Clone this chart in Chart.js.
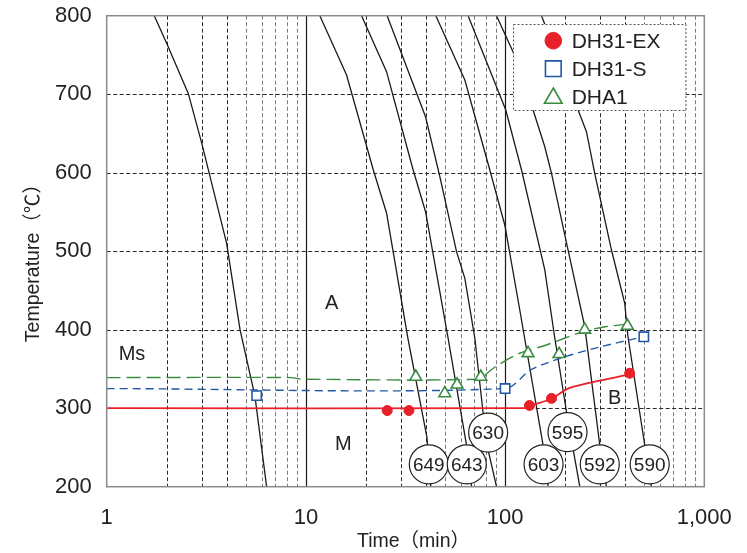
<!DOCTYPE html>
<html>
<head>
<meta charset="utf-8">
<script src="https://cdn.jsdelivr.net/npm/chart.js@4.4.1/dist/chart.umd.min.js"></script>
<style>
  html, body { margin: 0; padding: 0; background: #fff; }
  canvas { display: block; }
</style>
</head>
<body>
<canvas id="cct" width="747" height="553"></canvas>
<script>
const FONT = '"Liberation Sans", Arial, Helvetica, "Noto Sans CJK KR", sans-serif';

// Cooling curves: [time (min), temperature (°C)]
const curve0   = [[1.733,800],[2.0,765],[2.567,701],[2.997,638],[4.0,510],[4.67,400],[5.55,315],[6.35,200]];
const curve649 = [[11.75,800],[16.0,724.5],[21.8,603.4],[25.4,548.7],[32.5,389.4],[40.5,263.3],[42.4,200]];
const curve643 = [[19.03,800],[25.4,728.7],[34.55,603.4],[39.87,550.3],[51.76,389.0],[64.03,253.1],[67.85,200]];
const curve630 = [[25.58,800],[39.87,671.3],[47.03,594.9],[57.05,499.4],[62.8,465.4],[70.47,389.4],[77.55,293.9],[82.15,246.8],[90.55,200]];
const curve603 = [[44.91,800],[62.8,718.1],[83.8,603.4],[99.65,533.4],[118.5,425.1],[155.1,253.1],[164.4,200]];
const curve595 = [[65.2,800],[89.8,711.7],[100.8,679.9],[120.9,603.4],[158.2,476.1],[177.6,389.4],[203.3,295.5],[237.1,200]];
const curve592 = [[90.55,800],[109.7,753.8],[138.2,679.9],[158.2,633.1],[171,599.2],[207.1,501.5],[251.1,403.8],[298.7,253.1],[322.8,200]];
const curve590 = [[152.3,800],[232.5,679.9],[256.1,652.2],[281.8,599.2],[342,501.5],[398.7,433.6],[412.8,393.2],[502.3,253.1],[542.8,200]];

// Hardness tag at the end of each curve and its anchor (time, temperature)
const hardness     = ['', '649', '643', '630', '603', '595', '592', '590'];
const hardnessTime = [null, 41.4, 64.2, 82.2, 156, 205.7, 298.7, 532];
const hardnessTemp = [null, 228.5, 228.5, 269, 228.5, 269.5, 228.5, 228.5];

// Ms start lines and measured points per steel
const seriesNames = ['DH31-EX', 'DH31-S', 'DHA1'];
const exLineTime  = [1, 125, 132.6, 171, 211, 422];
const exLineTemp  = [300, 300, 303, 312, 326, 343];
const exPtTime    = [25.6, 32.9, 132.6, 171, 422];
const exPtTemp    = [297, 297, 303.5, 312.5, 344.5];
const sLineTime   = [1, 100, 135, 203, 299, 474, 497];
const sLineTemp   = [325, 325, 349, 366, 378, 390, 391];
const sPtTime     = [5.66, 100, 497];
const sPtTemp     = [316, 325, 391];
const a1LineTime  = [1, 8.5, 9.5, 76, 80.7, 92.2, 118.5, 161, 246, 323, 411];
const a1LineTemp  = [339, 339, 337, 337, 344, 355, 370, 380.5, 397.5, 404, 407];
const a1PtTime    = [35.6, 49.8, 57.4, 75.5, 130.4, 186.6, 251, 411];
const a1PtTemp    = [340, 319, 330, 340, 370, 369, 400, 405];

// Phase region names and their anchors
const regionText = ['Ms', 'A', 'M', 'B'];
const regionTime = [1.34, 13.46, 15.4, 355];
const regionTemp = [370, 435.7, 255.5, 314.6];

// Axis ticks
const xTickValues = [1, 10, 100, 1000];
const yTickValues = [200, 300, 400, 500, 600, 700, 800];

const RED = '#e8202a', BLUE = '#2257a8', GREEN = '#3a8a40';

const zip = (xs, ys) => xs.map((v, i) => ({ x: v, y: ys[i] }));
const pairs = c => c.map(p => ({ x: p[0], y: p[1] }));

const curves = [curve0, curve649, curve643, curve630, curve603, curve595, curve592, curve590];

const datasets = [];
// measured points (on top)
datasets.push({ label: seriesNames[0], data: zip(exPtTime, exPtTemp), showLine: false, order: 0,
  pointStyle: 'circle', pointRadius: 5, backgroundColor: RED, borderColor: RED, borderWidth: 1, legendMarker: true });
datasets.push({ label: seriesNames[1], data: zip(sPtTime, sPtTemp), showLine: false, order: 0,
  pointStyle: 'rect', pointRadius: 6.6, backgroundColor: '#fff', borderColor: BLUE, borderWidth: 1.6, legendMarker: true });
datasets.push({ label: seriesNames[2], data: zip(a1PtTime, a1PtTemp), showLine: false, order: 0,
  pointStyle: 'triangle', pointRadius: 6.8, backgroundColor: '#fff', borderColor: GREEN, borderWidth: 1.6, legendMarker: true });
// Ms lines
datasets.push({ data: zip(exLineTime, exLineTemp), showLine: true, pointRadius: 0, order: 1,
  borderColor: RED, borderWidth: 1.8, tension: 0.3 });
datasets.push({ data: zip(sLineTime, sLineTemp), showLine: true, pointRadius: 0, order: 1,
  borderColor: BLUE, borderWidth: 1.4, borderDash: [8, 5], tension: 0.3 });
datasets.push({ data: zip(a1LineTime, a1LineTemp), showLine: true, pointRadius: 0, order: 1,
  borderColor: GREEN, borderWidth: 1.4, borderDash: [14, 6], tension: 0.3 });
// cooling curves
curves.forEach(c => datasets.push({ data: pairs(c), showLine: true, pointRadius: 0, order: 2,
  borderColor: '#1a1a1a', borderWidth: 1.3, tension: 0 }));

function line(ctx, x1, y1, x2, y2) { ctx.beginPath(); ctx.moveTo(x1, y1); ctx.lineTo(x2, y2); ctx.stroke(); }

function drawMarker(ctx, style, x, y, r, ds) {
  ctx.save();
  ctx.lineWidth = ds.borderWidth;
  ctx.strokeStyle = ds.borderColor;
  ctx.fillStyle = ds.backgroundColor;
  ctx.beginPath();
  if (style === 'circle') {
    ctx.arc(x, y, r, 0, Math.PI * 2);
  } else if (style === 'rect') {
    const s = r * Math.SQRT1_2;
    ctx.rect(x - s, y - s, 2 * s, 2 * s);
  } else {
    for (let k = 0; k < 3; k++) {
      const a = k * 2 * Math.PI / 3;
      const px = x + Math.sin(a) * r, py = y - Math.cos(a) * r;
      k ? ctx.lineTo(px, py) : ctx.moveTo(px, py);
    }
    ctx.closePath();
  }
  ctx.fill();
  ctx.stroke();
  ctx.restore();
}

const decor = {
  id: 'cctDecor',
  beforeDatasetsDraw(chart) {
    const { ctx, chartArea: a, scales: { x, y } } = chart;
    ctx.save();
    ctx.lineWidth = 1;
    ctx.setLineDash([4, 2.5]);
    for (const d of [1, 10, 100]) {
      for (let m = 2; m <= 9; m++) {
        const px = Math.round(x.getPixelForValue(d * m)) + 0.5;
        ctx.strokeStyle = m <= 4 ? '#2a2a2a' : '#7a7a7a';
        line(ctx, px, a.top, px, a.bottom);
      }
    }
    ctx.strokeStyle = '#2a2a2a';
    yTickValues.slice(1, -1).forEach(v => {
      const py = Math.round(y.getPixelForValue(v)) + 0.5;
      line(ctx, a.left, py, a.right, py);
    });
    ctx.setLineDash([]);
    ctx.strokeStyle = '#1a1a1a';
    ctx.lineWidth = 1.2;
    xTickValues.slice(1, -1).forEach(v => {
      const px = Math.round(x.getPixelForValue(v)) + 0.5;
      line(ctx, px, a.top, px, a.bottom);
    });
    ctx.restore();
  },
  afterDatasetsDraw(chart) {
    const { ctx, chartArea: a, scales: { x, y } } = chart;
    ctx.save();

    // hardness tags
    ctx.textAlign = 'center';
    ctx.textBaseline = 'alphabetic';
    ctx.font = '19px ' + FONT;
    hardness.forEach((h, i) => {
      if (!h) return;
      const px = x.getPixelForValue(hardnessTime[i]);
      const py = y.getPixelForValue(hardnessTemp[i]);
      ctx.beginPath();
      ctx.arc(px, py, 19.5, 0, Math.PI * 2);
      ctx.fillStyle = '#fff';
      ctx.fill();
      ctx.lineWidth = 1.2;
      ctx.strokeStyle = '#222';
      ctx.stroke();
      ctx.fillStyle = '#222';
      ctx.fillText(h, px, py + 6.8);
    });

    // region names
    ctx.font = '20px ' + FONT;
    ctx.fillStyle = '#222';
    regionText.forEach((t, i) => {
      ctx.fillText(t, x.getPixelForValue(regionTime[i]), y.getPixelForValue(regionTemp[i]) + 7.2);
    });

    // legend
    const lx = a.right - 191, ly = a.top + 8.5, lw = 172.5, lh = 86;
    ctx.fillStyle = '#fff';
    ctx.fillRect(lx, ly, lw, lh);
    ctx.setLineDash([2, 2]);
    ctx.lineWidth = 1;
    ctx.strokeStyle = '#555';
    ctx.strokeRect(Math.round(lx) + 0.5, Math.round(ly) + 0.5, lw, lh);
    ctx.setLineDash([]);
    const legendSets = chart.data.datasets.filter(d => d.legendMarker);
    const rowY = [16.5, 44.5, 72];
    const bigR = { circle: 8.3, rect: 11.1, triangle: 10.2 };
    ctx.font = '21px ' + FONT;
    ctx.textAlign = 'left';
    legendSets.forEach((ds, i) => {
      const cy = ly + rowY[i];
      drawMarker(ctx, ds.pointStyle, lx + 40, cy + (ds.pointStyle === 'triangle' ? 2 : 0), bigR[ds.pointStyle], ds);
      ctx.fillStyle = '#222';
      ctx.fillText(ds.label, lx + 58.4, cy + 7.5);
    });

    // plot frame
    ctx.strokeStyle = '#8a8a8a';
    ctx.lineWidth = 1.5;
    ctx.strokeRect(a.left, a.top, a.right - a.left, a.bottom - a.top);

    // axis titles
    ctx.fillStyle = '#222';
    ctx.font = '19.5px ' + FONT;
    ctx.textAlign = 'left';
    ctx.fillText('Time（min）', (a.left + a.right) / 2 - 48.5, a.bottom + 60.3);
    ctx.translate(38.6, (a.top + a.bottom) / 2 + 91);
    ctx.rotate(-Math.PI / 2);
    ctx.fillText('Temperature（℃）', 0, 0);
    ctx.restore();
  }
};

const noOverflow = s => { s.paddingLeft = 0; s.paddingRight = 0; s.paddingTop = 0; s.paddingBottom = 0; };

new Chart(document.getElementById('cct'), {
  type: 'scatter',
  data: { datasets },
  options: {
    responsive: false,
    animation: false,
    devicePixelRatio: 1,
    layout: { padding: { left: 0, top: 15.7, right: 42.7, bottom: 0 } },
    plugins: { legend: { display: false }, tooltip: { enabled: false } },
    scales: {
      x: {
        type: 'logarithmic', min: 1, max: 1000,
        afterBuildTicks: s => { s.ticks = xTickValues.map(v => ({ value: v })); },
        afterFit: s => { s.height = 66.3; noOverflow(s); },
        ticks: { callback: v => Number(v).toLocaleString('en-US'), autoSkip: false, maxRotation: 0,
                 padding: 18, color: '#222', font: { family: FONT, size: 22 } },
        grid: { display: false, drawTicks: false },
        border: { display: false }
      },
      y: {
        type: 'linear', min: 200, max: 800,
        afterBuildTicks: s => { s.ticks = yTickValues.map(v => ({ value: v })); },
        afterFit: s => { s.width = 106.7; noOverflow(s); },
        ticks: { padding: 15, color: '#222', font: { family: FONT, size: 22 } },
        grid: { display: false, drawTicks: false },
        border: { display: false }
      }
    }
  },
  plugins: [decor]
});
</script>
</body>
</html>
